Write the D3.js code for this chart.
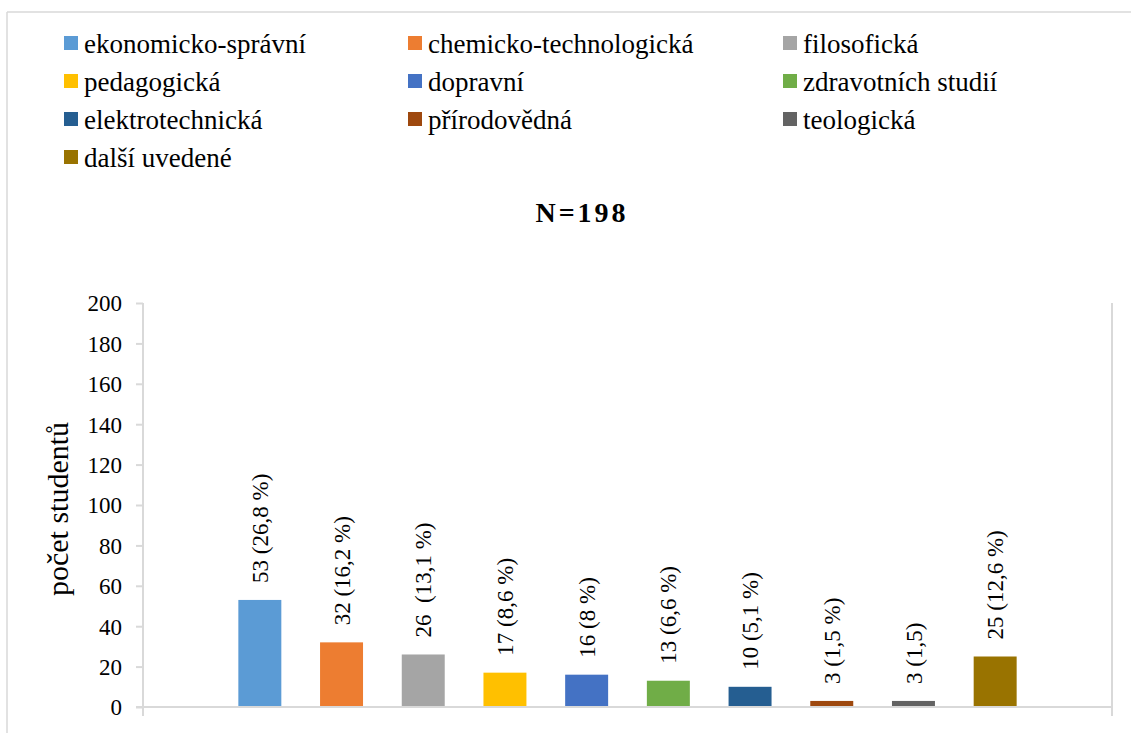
<!DOCTYPE html>
<html>
<head>
<meta charset="utf-8">
<script src="https://cdn.jsdelivr.net/npm/d3@7"></script>
<style>
  body { margin: 0; background: #fff; }
  svg { display: block; font-family: "Liberation Serif", "Times New Roman", serif; }
</style>
</head>
<body>
<svg id="chart" width="1131" height="733"></svg>
<script>
const categories = ["ekonomicko-správní", "chemicko-technologická", "filosofická",
  "pedagogická", "dopravní", "zdravotních studií", "elektrotechnická",
  "přírodovědná", "teologická", "další uvedené"]
const values = [53, 32, 26, 17, 16, 13, 10, 3, 3, 25]
const valueLabels = ["53 (26,8 %)", "32 (16,2 %)", "26  (13,1 %)", "17 (8,6 %)", "16 (8 %)",
  "13 (6,6 %)", "10 (5,1 %)", "3 (1,5 %)", "3 (1,5)", "25 (12,6 %)"]
const colors = ["#5B9BD5", "#ED7D31", "#A5A5A5", "#FFC000", "#4472C4", "#70AD47",
  "#255E91", "#9E480E", "#636363", "#997300"]
const yTicks = [0, 20, 40, 60, 80, 100, 120, 140, 160, 180, 200]
const title = "N=198"
const yTitle = "počet studentů"

let svg = d3.select("#chart")
let grid = "#d9d9d9"

// outer frame (only top and left edges visible)
svg.append("line").attr("x1", 7).attr("y1", 12).attr("x2", 1131).attr("y2", 12)
  .style("stroke", grid).style("stroke-width", 1.5)
svg.append("line").attr("x1", 7).attr("y1", 12).attr("x2", 7).attr("y2", 733)
  .style("stroke", grid).style("stroke-width", 1.5)

// legend, 3 columns
let colX = [64, 408, 783]
let legend = svg.append("g").selectAll("g").data(categories).enter().append("g")
  .attr("transform", (d, i) => "translate(" + colX[i % 3] + "," + (53 + Math.floor(i / 3) * 38) + ")")
legend.append("rect").attr("x", 0).attr("y", -17).attr("width", 14).attr("height", 14)
  .style("fill", (d, i) => colors[i])
legend.append("text").attr("x", 20).attr("y", 0).text(d => d)
  .style("font-size", "27px").style("fill", "#000")

svg.append("text").attr("x", 582).attr("y", 222).attr("text-anchor", "middle")
  .style("font-size", "28px").style("font-weight", "bold").style("letter-spacing", "3px")
  .text(title)

let x = d3.scaleBand().domain(categories).range([143, 1112])
  .paddingInner(0.474).paddingOuter(1.167)
let y = d3.scaleLinear().domain([0, 200]).range([707, 303])

// axes
let yAxis = svg.append("g").attr("transform", "translate(143,0)")
  .call(d3.axisLeft(y).tickValues(yTicks).tickSize(7).tickPadding(14))
yAxis.select(".domain").remove()
yAxis.selectAll(".tick line").style("stroke", grid).style("stroke-width", 2)
yAxis.selectAll(".tick text").style("font-size", "23px").style("fill", "#000")
  .style("font-family", "'Liberation Serif', 'Times New Roman', serif").attr("dy", "0.34em")

svg.append("line").attr("x1", 143).attr("y1", y(200)).attr("x2", 143).attr("y2", y(0) + 9)
  .style("stroke", grid).style("stroke-width", 2)
svg.append("line").attr("x1", 1112).attr("y1", y(200)).attr("x2", 1112).attr("y2", y(0) + 9)
  .style("stroke", grid).style("stroke-width", 2)

svg.append("text")
  .attr("transform", "translate(68," + ((y(0) + y(200)) / 2 + 4) + ")rotate(-90)")
  .attr("text-anchor", "middle").style("font-size", "30px").text(yTitle)

// bars
svg.append("g").selectAll("rect").data(values).enter().append("rect")
  .attr("x", (d, i) => x(categories[i]))
  .attr("y", d => y(d))
  .attr("width", x.bandwidth())
  .attr("height", d => y(0) - y(d))
  .style("fill", (d, i) => colors[i])

svg.append("line").attr("x1", 136).attr("y1", y(0)).attr("x2", 1112).attr("y2", y(0))
  .style("stroke", grid).style("stroke-width", 2)

// value labels, rotated
svg.append("g").selectAll("text").data(values).enter().append("text")
  .attr("transform", (d, i) => "translate(" + (x(categories[i]) + x.bandwidth() / 2) + "," + (y(d) - 17) + ")rotate(-90)")
  .attr("dy", "0.35em")
  .style("font-size", "23px").style("white-space", "pre")
  .text((d, i) => valueLabels[i])
</script>
</body>
</html>
